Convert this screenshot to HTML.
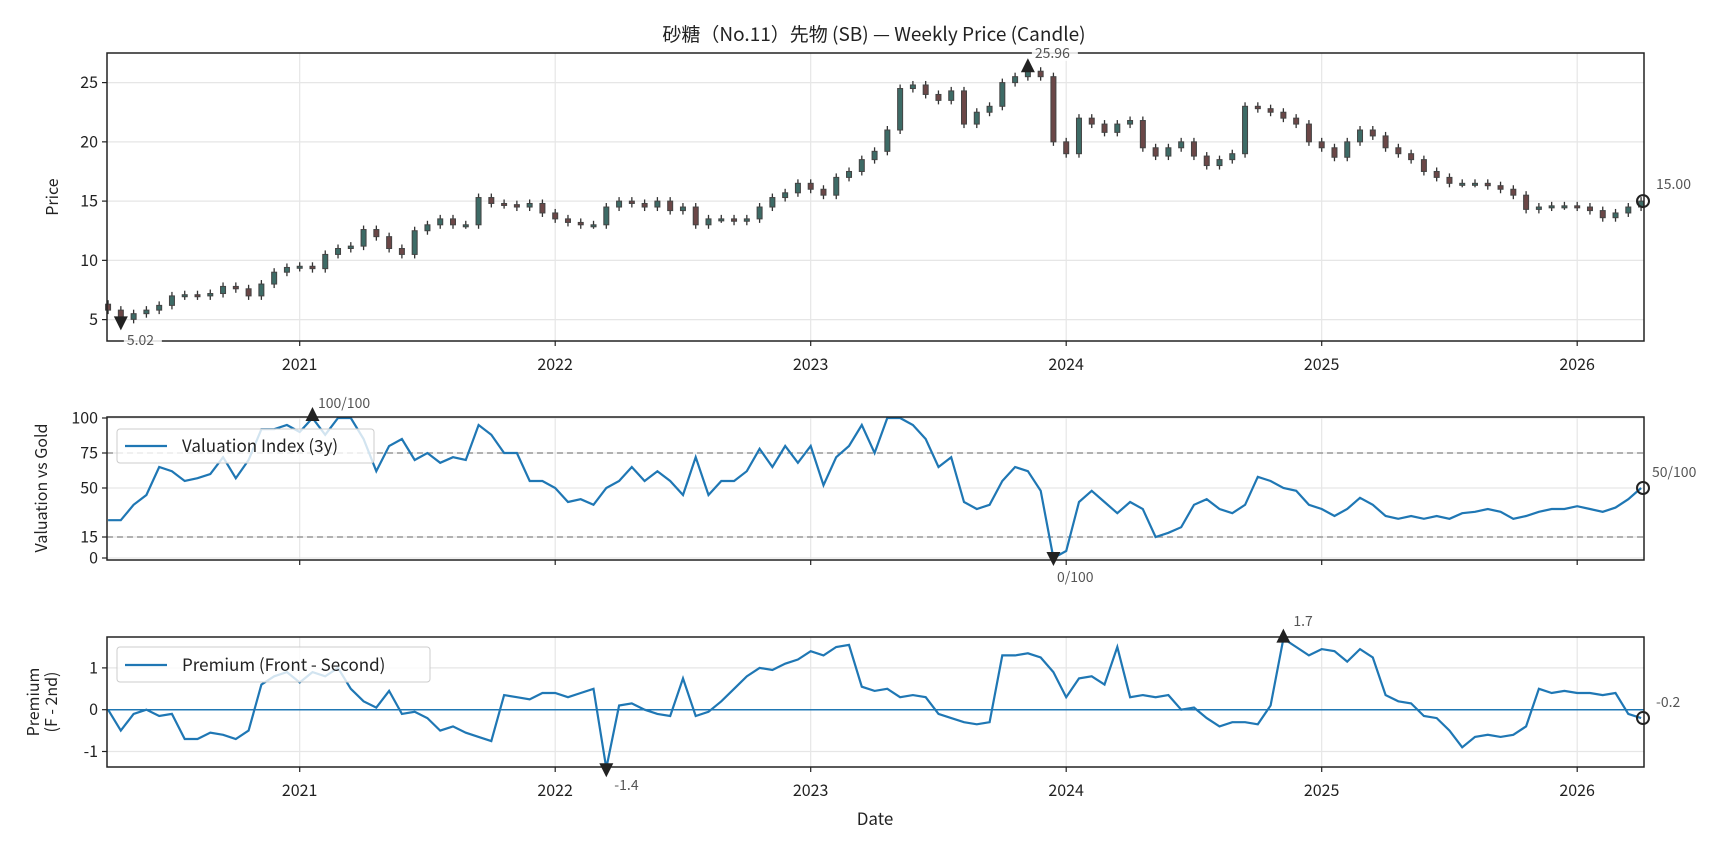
<!DOCTYPE html>
<html><head><meta charset="utf-8">
<style>
html,body{margin:0;padding:0;background:#fff;}
svg{display:block;font-family:"Noto Sans CJK JP","Liberation Sans",sans-serif;}
</style></head>
<body>
<svg id="chart" width="1728" height="849" viewBox="0 0 1728 849" xmlns="http://www.w3.org/2000/svg">
<text x="874" y="41" text-anchor="middle" font-size="19" fill="#222" font-family="Noto Sans CJK JP, Liberation Sans, sans-serif">砂糖（No.11）先物 (SB) — Weekly Price (Candle)</text>
<g id="p1"></g>
<g id="p2"></g>
<g id="p3"></g>
</svg>
<script>
// ---- data (samples, step 0.05 year from 2020.25) ----
const startYear = 2020.25;
const stepYear = 0.05;
const yearTicks = [2021, 2022, 2023, 2024, 2025, 2026];
const priceTicks = [5, 10, 15, 20, 25];
const valTicks = [0, 15, 50, 75, 100];
const premTicks = [-1, 0, 1];
const priceClose = [
 5.8,5.02,5.5,5.8,6.2,7.0,7.1,7.0,7.2,7.8,7.6,7.0,8.0,9.0,9.4,9.5,
 9.3,10.5,11.0,11.2,12.6,12.0,11.0,10.5,12.5,13.0,13.5,13.0,13.0,15.3,14.8,14.7,14.5,14.8,14.0,13.5,
 13.2,13.0,13.0,14.5,15.0,14.8,14.5,15.0,14.2,14.5,13.0,13.5,13.5,13.3,13.5,14.5,15.3,15.7,16.5,16.0,
 15.5,17.0,17.5,18.5,19.2,21.0,24.5,24.8,24.0,23.5,24.3,21.5,22.5,23.0,25.0,25.5,25.96,25.5,20.0,19.0,
 22.0,21.5,20.8,21.5,21.8,19.5,18.8,19.5,20.0,18.8,18.0,18.5,19.0,23.0,22.8,22.5,22.0,21.5,20.0,19.5,
 18.7,20.0,21.0,20.5,19.5,19.0,18.5,17.5,17.0,16.5,16.5,16.5,16.3,16.0,15.5,14.3,14.5,14.6,14.6,14.5,
 14.2,13.6,14.0,14.5,15.0
];
const valuation = [
 27,27,38,45,65,62,55,57,60,72,57,70,92,92,95,90,
 100,88,100,100,85,62,80,85,70,75,68,72,70,95,88,75,75,55,55,50,
 40,42,38,50,55,65,55,62,55,45,72,45,55,55,62,78,65,80,68,80,
 52,72,80,95,75,100,100,95,85,65,72,40,35,38,55,65,62,48,0,5,
 40,48,40,32,40,35,15,18,22,38,42,35,32,38,58,55,50,48,38,35,
 30,35,43,38,30,28,30,28,30,28,32,33,35,33,28,30,33,35,35,37,
 35,33,36,42,50
];
const premium = [
 0,-0.5,-0.1,0,-0.15,-0.1,-0.7,-0.7,-0.55,-0.6,-0.7,-0.5,0.6,0.8,0.9,0.65,
 0.9,0.8,1.0,0.5,0.2,0.05,0.45,-0.1,-0.05,-0.2,-0.5,-0.4,-0.55,-0.65,-0.75,0.35,0.3,0.25,0.4,0.4,
 0.3,0.4,0.5,-1.4,0.1,0.15,0.0,-0.1,-0.15,0.75,-0.15,-0.05,0.2,0.5,0.8,1.0,0.95,1.1,1.2,1.4,
 1.3,1.5,1.55,0.55,0.45,0.5,0.3,0.35,0.3,-0.1,-0.2,-0.3,-0.35,-0.3,1.3,1.3,1.35,1.25,0.9,0.3,
 0.75,0.8,0.6,1.5,0.3,0.35,0.3,0.35,0.0,0.05,-0.2,-0.4,-0.3,-0.3,-0.35,0.1,1.7,1.5,1.3,1.45,
 1.4,1.15,1.45,1.25,0.35,0.2,0.15,-0.15,-0.2,-0.5,-0.9,-0.65,-0.6,-0.65,-0.6,-0.4,0.5,0.4,0.45,0.4,
 0.4,0.35,0.4,-0.1,-0.2
];
// ---- layout ----
const NS = "http://www.w3.org/2000/svg";
const X0 = 107, X1 = 1644;
function xScale(t){ return 299.7 + (t - 2021) * 255.5; }
function tAt(i){ return startYear + i * stepYear; }
function yPrice(v){ return 319.6 - (v - 5) * 11.85; }
function yVal(v){ return 558 - v * 1.4; }
function yPrem(v){ return 709.7 - v * 41.8; }
function mk(parent, tag, attrs, text){
  const e = document.createElementNS(NS, tag);
  for (const k in attrs) e.setAttribute(k, attrs[k]);
  if (text !== undefined) e.textContent = text;
  parent.appendChild(e);
  return e;
}
const FONT = "Noto Sans CJK JP, Liberation Sans, sans-serif";

function frame(g, top, bot, ticks, yf, showXLabels, labelY){
  yearTicks.forEach(yr => {
    const gl = mk(g, 'line', {x1:xScale(yr), x2:xScale(yr), y1:top, y2:bot, stroke:'#e6e6e6', 'stroke-width':1.2});
    
    
  });
  ticks.forEach(v => {
    const y = yf(v);
    const gl = mk(g, 'line', {x1:X0, x2:X1, y1:y, y2:y, stroke:'#e6e6e6', 'stroke-width':1.2});
    
    
    const tk = mk(g, 'line', {x1:X0-5, x2:X0, y1:y, y2:y, stroke:'#222', 'stroke-width':1.2});
    
    
    const tl = mk(g, 'text', {x:X0-9, y:y+5.5, 'text-anchor':'end', 'font-size':16, fill:'#222', 'font-family':FONT}, String(v));
    
    
  });
  yearTicks.forEach(yr => {
    const x = xScale(yr);
    const tk = mk(g, 'line', {x1:x, x2:x, y1:bot, y2:bot+5, stroke:'#222', 'stroke-width':1.2});
    
    
    if (showXLabels){
      const tl = mk(g, 'text', {x:x, y:labelY, 'text-anchor':'middle', 'font-size':16, fill:'#222', 'font-family':FONT}, String(yr));
      
      
    }
  });
}
function border(g, top, bot){
  const r = mk(g, 'rect', {x:X0, y:top, width:X1-X0, height:bot-top, fill:'none', stroke:'#222', 'stroke-width':1.5});
  
  
}
function ann(g, x, y, txt, anchor, bg){
  if (bg){
    const w = txt.length * 8 + 6;
    const bx = anchor === 'middle' ? x - w/2 : x - 3;
    const b = mk(g, 'rect', {x:bx, y:y-13, width:w, height:16, fill:'#fff', opacity:0.85});
    
    
  }
  const t = mk(g, 'text', {x:x, y:y, 'text-anchor':anchor||'start', 'font-size':14, fill:'#555', 'font-family':FONT}, txt);
  
  
}
function tri(g, x, y, up){
  const s = 7;
  const pts = up ? `${x-s},${y+s} ${x+s},${y+s} ${x},${y-s}` : `${x-s},${y-s} ${x+s},${y-s} ${x},${y+s}`;
  const p = mk(g, 'polygon', {points:pts, fill:'#222'});
  
  
}
function ring(g, x, y){
  const c = mk(g, 'circle', {cx:x, cy:y, r:6, fill:'none', stroke:'#222', 'stroke-width':2});
  
  
}
function argmax(a){ let k=0; a.forEach((v,i)=>{ if (v>a[k]) k=i; }); return k; }
function argmin(a){ let k=0; a.forEach((v,i)=>{ if (v<a[k]) k=i; }); return k; }

// ---- Panel 1: price candles ----
const p1 = document.getElementById('p1');
frame(p1, 53, 341, priceTicks, yPrice, true, 370);
priceClose.forEach((c, i) => {
  const o = i === 0 ? c + 0.5 : priceClose[i-1];
  const hi = Math.max(o, c), lo = Math.min(o, c);
  const x = xScale(tAt(i));
  const w = mk(p1, 'line', {x1:x, x2:x, y1:yPrice(hi)-4, y2:yPrice(lo)+4, stroke:'#333', 'stroke-width':1.3});
  
  
  const top = yPrice(hi), h = Math.max(2, yPrice(lo) - top);
  const r = mk(p1, 'rect', {x:x-2.5, y:top, width:5, height:h, fill: c >= o ? '#3d6b66' : '#6b4747', stroke:'#444', 'stroke-width':1});
  
  
});
border(p1, 53, 341);
{
  const iM = argmax(priceClose), im = argmin(priceClose), iL = priceClose.length-1;
  tri(p1, xScale(tAt(iM)), yPrice(priceClose[iM]) - 6, true);
  ann(p1, xScale(tAt(iM)) + 7, 58, priceClose[iM].toFixed(2), 'start', true);
  tri(p1, xScale(tAt(im)), yPrice(priceClose[im]) + 4, false);
  ann(p1, xScale(tAt(im)) + 6, 345, priceClose[im].toFixed(2), 'start', true);
  ring(p1, X1 - 1, yPrice(priceClose[iL]));
  ann(p1, 1656, 189, priceClose[iL].toFixed(2), 'start', false);
}
const yl1 = mk(p1, 'text', {x:58, y:197, transform:'rotate(-90 58 197)', 'text-anchor':'middle', 'font-size':16, fill:'#222', 'font-family':FONT}, 'Price');



// ---- Panel 2: valuation ----
const p2 = document.getElementById('p2');
frame(p2, 417, 560, valTicks, yVal, false, 0);
[75, 15].forEach(v => {
  const d = mk(p2, 'line', {x1:X0, x2:X1, y1:yVal(v), y2:yVal(v), stroke:'#999', 'stroke-width':1.5, 'stroke-dasharray':'6,4'});
  
  
});
{
  const pts = valuation.map((v,i)=>`${xScale(tAt(i)).toFixed(1)},${yVal(v).toFixed(1)}`).join(' ');
  const l = mk(p2, 'polyline', {points:pts, fill:'none', stroke:'#1f77b4', 'stroke-width':2.2});
  
  
  const iM = argmax(valuation), im = argmin(valuation), iL = valuation.length-1;
  tri(p2, xScale(tAt(iM)), yVal(valuation[iM]) - 4, true);
  ann(p2, 318, 408, valuation[iM] + '/100', 'start', false);
  tri(p2, xScale(tAt(im)), yVal(valuation[im]) + 1, false);
  ann(p2, 1057, 582, valuation[im] + '/100', 'start', false);
  ring(p2, X1 - 1, yVal(valuation[iL]));
  ann(p2, 1652, 477, valuation[iL] + '/100', 'start', false);
}
border(p2, 417, 560);
{
  const lg = mk(p2, 'g', {});
  
  
  mk(lg, 'rect', {x:117, y:429, width:257, height:34, rx:3, fill:'#fff', 'fill-opacity':0.8, stroke:'#ccc'});
  mk(lg, 'line', {x1:125, x2:167, y1:446, y2:446, stroke:'#1f77b4', 'stroke-width':2.2});
  mk(lg, 'text', {x:182, y:452, 'font-size':17, fill:'#222', 'font-family':FONT}, 'Valuation Index (3y)');
}
const yl2 = mk(p2, 'text', {x:47, y:488, transform:'rotate(-90 47 488)', 'text-anchor':'middle', 'font-size':16, fill:'#222', 'font-family':FONT}, 'Valuation vs Gold');



// ---- Panel 3: premium ----
const p3 = document.getElementById('p3');
frame(p3, 637, 767, premTicks, yPrem, true, 796);
{
  const z = mk(p3, 'line', {x1:X0, x2:X1, y1:yPrem(0), y2:yPrem(0), stroke:'#1f77b4', 'stroke-width':1.5});
  
  
  const pts = premium.map((v,i)=>`${xScale(tAt(i)).toFixed(1)},${yPrem(v).toFixed(1)}`).join(' ');
  const l = mk(p3, 'polyline', {points:pts, fill:'none', stroke:'#1f77b4', 'stroke-width':2.2});
  
  
  const iM = argmax(premium), im = argmin(premium), iL = premium.length-1;
  tri(p3, xScale(tAt(iM)), yPrem(premium[iM]) - 3, true);
  ann(p3, xScale(tAt(iM)) + 10, 626, String(premium[iM]), 'start', false);
  tri(p3, xScale(tAt(im)), yPrem(premium[im]) + 2, false);
  ann(p3, xScale(tAt(im)) + 8, 790, String(premium[im]), 'start', false);
  ring(p3, X1 - 1, yPrem(premium[iL]));
  ann(p3, 1656, 707, String(premium[iL]), 'start', false);
}
border(p3, 637, 767);
{
  const lg = mk(p3, 'g', {});
  
  
  mk(lg, 'rect', {x:117, y:647, width:313, height:35, rx:3, fill:'#fff', 'fill-opacity':0.8, stroke:'#ccc'});
  mk(lg, 'line', {x1:125, x2:167, y1:665, y2:665, stroke:'#1f77b4', 'stroke-width':2.2});
  mk(lg, 'text', {x:182, y:671, 'font-size':17, fill:'#222', 'font-family':FONT}, 'Premium (Front - Second)');
}
const yl3a = mk(p3, 'text', {x:39, y:702, transform:'rotate(-90 39 702)', 'text-anchor':'middle', 'font-size':16, fill:'#222', 'font-family':FONT}, 'Premium');


const yl3b = mk(p3, 'text', {x:57, y:702, transform:'rotate(-90 57 702)', 'text-anchor':'middle', 'font-size':16, fill:'#222', 'font-family':FONT}, '(F - 2nd)');


const xl = mk(p3, 'text', {x:875, y:825, 'text-anchor':'middle', 'font-size':17, fill:'#222', 'font-family':FONT}, 'Date');


</script>
</body></html>
